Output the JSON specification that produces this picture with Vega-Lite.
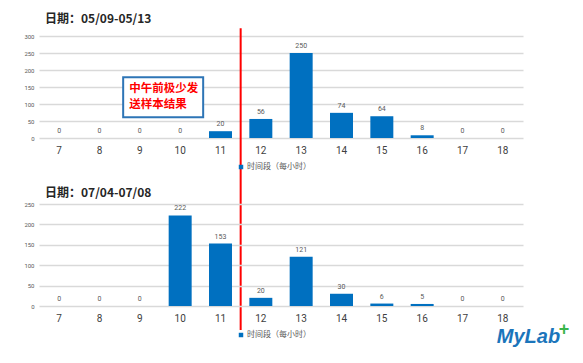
{
  "$schema": "https://vega.github.io/schema/vega-lite/v6.json",
  "background": "white",
  "padding": {"left": 23, "top": 13, "right": 5, "bottom": 5},
  "bounds": "flush",
  "datasets": {
    "bars": [
      {"panel": "top", "hour": 7, "count": 0, "series": "时间段（每小时）"},
      {"panel": "top", "hour": 8, "count": 0, "series": "时间段（每小时）"},
      {"panel": "top", "hour": 9, "count": 0, "series": "时间段（每小时）"},
      {"panel": "top", "hour": 10, "count": 0, "series": "时间段（每小时）"},
      {"panel": "top", "hour": 11, "count": 20, "series": "时间段（每小时）"},
      {"panel": "top", "hour": 12, "count": 56, "series": "时间段（每小时）"},
      {"panel": "top", "hour": 13, "count": 250, "series": "时间段（每小时）"},
      {"panel": "top", "hour": 14, "count": 74, "series": "时间段（每小时）"},
      {"panel": "top", "hour": 15, "count": 64, "series": "时间段（每小时）"},
      {"panel": "top", "hour": 16, "count": 8, "series": "时间段（每小时）"},
      {"panel": "top", "hour": 17, "count": 0, "series": "时间段（每小时）"},
      {"panel": "top", "hour": 18, "count": 0, "series": "时间段（每小时）"},
      {"panel": "bottom", "hour": 7, "count": 0, "series": "时间段（每小时）"},
      {"panel": "bottom", "hour": 8, "count": 0, "series": "时间段（每小时）"},
      {"panel": "bottom", "hour": 9, "count": 0, "series": "时间段（每小时）"},
      {"panel": "bottom", "hour": 10, "count": 222, "series": "时间段（每小时）"},
      {"panel": "bottom", "hour": 11, "count": 153, "series": "时间段（每小时）"},
      {"panel": "bottom", "hour": 12, "count": 20, "series": "时间段（每小时）"},
      {"panel": "bottom", "hour": 13, "count": 121, "series": "时间段（每小时）"},
      {"panel": "bottom", "hour": 14, "count": 30, "series": "时间段（每小时）"},
      {"panel": "bottom", "hour": 15, "count": 6, "series": "时间段（每小时）"},
      {"panel": "bottom", "hour": 16, "count": 5, "series": "时间段（每小时）"},
      {"panel": "bottom", "hour": 17, "count": 0, "series": "时间段（每小时）"},
      {"panel": "bottom", "hour": 18, "count": 0, "series": "时间段（每小时）"}
    ],
    "note": [{"hour": 10, "count": 120, "text": "中午前极少发\n送样本结果"}],
    "divider": [{"hour": 11, "count": 323, "bottom": -565}],
    "logo": [{"hour": 18, "count": -76, "text": "MyLab"}],
    "plus": [{"hour": 18, "count": -58, "text": "+"}]
  },
  "spacing": 66,
  "resolve": {"legend": {"color": "independent"}, "scale": {"y": "independent"}},
  "vconcat": [
    {
      "width": 484,
      "height": 102,
      "title": {"text": "日期：05/09-05/13", "anchor": "start", "frame": "group", "dx": 6, "fontSize": 12, "fontWeight": "bold", "color": "#262626", "offset": 1, "font": "Noto Sans CJK SC"},
      "encoding": {
        "x": {"field": "hour", "type": "ordinal", "scale": {"domain": [7,8,9,10,11,12,13,14,15,16,17,18], "paddingInner": 0.43, "paddingOuter": 0.215}, "axis": {"title": null, "labelAngle": 0, "domain": false, "ticks": false, "labelFontSize": 10, "labelColor": "#404040", "labelPadding": 7}},
        "y": {"field": "count", "type": "quantitative", "scale": {"domain": [0, 300]}, "axis": {"title": null, "values": [0,50,100,150,200,250,300], "domain": false, "ticks": false, "labelFontSize": 6, "labelColor": "#595959", "labelPadding": 5}}
      },
      "layer": [
        {
          "data": {"name": "bars"},
          "transform": [{"filter": "datum.panel === 'top'"}],
          "mark": {"type": "bar"},
          "encoding": {
            "color": {"field": "series", "type": "nominal", "scale": {"range": ["#0070C0"]}, "legend": {"orient": "none", "legendX": 198, "legendY": 127, "direction": "horizontal", "title": null, "symbolType": "square", "symbolSize": 20, "labelFontSize": 8, "labelColor": "#595959", "labelFont": "Noto Sans CJK SC", "padding": 0, "labelOffset": 2}}
          }
        },
        {
          "data": {"name": "bars"},
          "transform": [{"filter": "datum.panel === 'top'"}],
          "mark": {"type": "text", "baseline": "bottom", "dy": -4, "fontSize": 7, "color": "#595959"},
          "encoding": {
            "text": {"field": "count", "type": "quantitative"}
          }
        },
        {
          "data": {"name": "note"},
          "mark": {"type": "point", "shape": "M-1,-0.5H1V0.5H-1Z", "size": 6400, "filled": true, "fill": "white", "stroke": "#2E75B6", "strokeWidth": 2, "opacity": 1, "xOffset": -17}
        },
        {
          "data": {"name": "note"},
          "mark": {"type": "text", "align": "left", "baseline": "middle", "dx": -51, "dy": -8, "lineBreak": "\n", "lineHeight": 16, "fontSize": 11.5, "fontWeight": "bold", "color": "#FF0000", "font": "Noto Sans CJK SC"},
          "encoding": {
            "text": {"field": "text", "type": "nominal"}
          }
        },
        {
          "data": {"name": "divider"},
          "mark": {"type": "rule", "color": "#FF0000", "strokeWidth": 2},
          "encoding": {
            "x": {"field": "hour", "type": "ordinal", "bandPosition": 1.377},
            "y2": {"field": "bottom"}
          }
        }
      ]
    },
    {
      "width": 484,
      "height": 102,
      "title": {"text": "日期：07/04-07/08", "anchor": "start", "frame": "group", "dx": 6, "fontSize": 12, "fontWeight": "bold", "color": "#262626", "offset": 1, "font": "Noto Sans CJK SC"},
      "encoding": {
        "x": {"field": "hour", "type": "ordinal", "scale": {"domain": [7,8,9,10,11,12,13,14,15,16,17,18], "paddingInner": 0.43, "paddingOuter": 0.215}, "axis": {"title": null, "labelAngle": 0, "domain": false, "ticks": false, "labelFontSize": 10, "labelColor": "#404040", "labelPadding": 7}},
        "y": {"field": "count", "type": "quantitative", "scale": {"domain": [0, 250]}, "axis": {"title": null, "values": [0,50,100,150,200,250], "domain": false, "ticks": false, "labelFontSize": 6, "labelColor": "#595959", "labelPadding": 5}}
      },
      "layer": [
        {
          "data": {"name": "bars"},
          "transform": [{"filter": "datum.panel === 'bottom'"}],
          "mark": {"type": "bar"},
          "encoding": {
            "color": {"field": "series", "type": "nominal", "scale": {"range": ["#0070C0"]}, "legend": {"orient": "none", "legendX": 198, "legendY": 127, "direction": "horizontal", "title": null, "symbolType": "square", "symbolSize": 20, "labelFontSize": 8, "labelColor": "#595959", "labelFont": "Noto Sans CJK SC", "padding": 0, "labelOffset": 2}}
          }
        },
        {
          "data": {"name": "bars"},
          "transform": [{"filter": "datum.panel === 'bottom'"}],
          "mark": {"type": "text", "baseline": "bottom", "dy": -4, "fontSize": 7, "color": "#595959"},
          "encoding": {
            "text": {"field": "count", "type": "quantitative"}
          }
        },
        {
          "data": {"name": "logo"},
          "mark": {"type": "text", "align": "left", "baseline": "middle", "dx": -6, "fontSize": 20, "fontStyle": "italic", "fontWeight": "bold", "color": "#1B75BB", "font": "Liberation Sans"},
          "encoding": {
            "text": {"field": "text", "type": "nominal"}
          }
        },
        {
          "data": {"name": "plus"},
          "mark": {"type": "text", "align": "left", "baseline": "middle", "dx": 56, "fontSize": 18, "fontWeight": "bold", "color": "#39B54A", "font": "Liberation Sans"},
          "encoding": {
            "text": {"field": "text", "type": "nominal"}
          }
        }
      ]
    }
  ],
  "config": {
    "font": "Roboto",
    "view": {"stroke": null},
    "axis": {"gridColor": "#d9d9d9", "gridWidth": 1.5},
    "legend": {"symbolStrokeWidth": 0}
  }
}
